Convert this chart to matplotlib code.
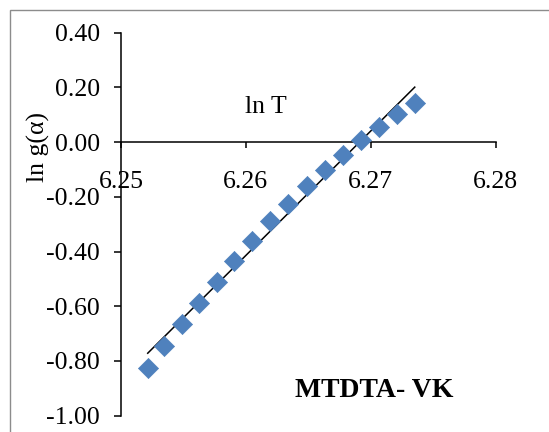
import numpy as np
import matplotlib
matplotlib.use("Agg")
import matplotlib.pyplot as plt
from matplotlib.patches import Rectangle

# Data
ln_T = [6.25214, 6.25346, 6.25486, 6.25624, 6.25766, 6.25904, 6.26046, 6.26192,
        6.26338, 6.26486, 6.26632, 6.26778, 6.26920, 6.27066, 6.27210, 6.27352]
ln_g = [-0.826, -0.745, -0.665, -0.587, -0.510, -0.433, -0.360, -0.290,
        -0.226, -0.162, -0.101, -0.046, 0.008, 0.057, 0.102, 0.143]
x_ticks = [6.25, 6.26, 6.27, 6.28]
y_ticks = [-1.00, -0.80, -0.60, -0.40, -0.20, 0.00, 0.20, 0.40]

plt.rcParams['font.family'] = ['Liberation Serif', 'DejaVu Serif']

fig = plt.figure(figsize=(5.49, 4.32), dpi=100)
# chart-area border (only left/top visible in the crop)
fig.patches.append(Rectangle((10/549, -0.5), 2.0, (432-10)/432 + 0.5,
                             transform=fig.transFigure, fill=False,
                             edgecolor='#8c8c8c', linewidth=1.0))

ax = fig.add_axes([121/549, (432-415.7)/432, 374.7/549, 383/432])
ax.patch.set_alpha(0)

ax.scatter(ln_T, ln_g, marker='D', s=105, color='#4F81BD', edgecolors='#4F81BD',
           linewidths=0.5, zorder=3)

x = np.array(ln_T)
slope, intercept = np.polyfit(x, np.array(ln_g), 1)
xl = np.array([x.min(), x.max()])
ax.plot(xl, slope * xl + intercept, color='black', linewidth=1.1, zorder=2)

ax.set_xlim(6.25, 6.28)
ax.set_ylim(-1.0, 0.4)
ax.set_xticks(x_ticks)
ax.set_yticks(y_ticks)
ax.set_xticklabels([f"{v:.2f}" for v in x_ticks])
ax.set_yticklabels([f"{v:.2f}" for v in y_ticks])

ax.spines['top'].set_visible(False)
ax.spines['right'].set_visible(False)
ax.spines['bottom'].set_position(('data', 0))
for s in ('left', 'bottom'):
    ax.spines[s].set_linewidth(1.1)
    ax.spines[s].set_color('black')

ax.tick_params(axis='y', direction='out', length=5, width=1.1, pad=10, labelsize=18.5)
ax.tick_params(axis='x', direction='out', length=4.5, width=1.1, pad=16, labelsize=18.5)

ax.set_xlabel('ln T', fontsize=18.5)
ax.xaxis.set_label_coords(0.386, 0.806)
ax.xaxis.label.set_va('center')
ax.set_ylabel('ln g(α)', fontsize=18.5)
ax.yaxis.set_label_coords(-0.219, 0.702)
ax.yaxis.label.set_va('center')

ax.text(0.675, 0.066, 'MTDTA- VK', transform=ax.transAxes, fontsize=20,
        fontweight='bold', ha='center', va='center')

fig.savefig('out.png', dpi=100)
